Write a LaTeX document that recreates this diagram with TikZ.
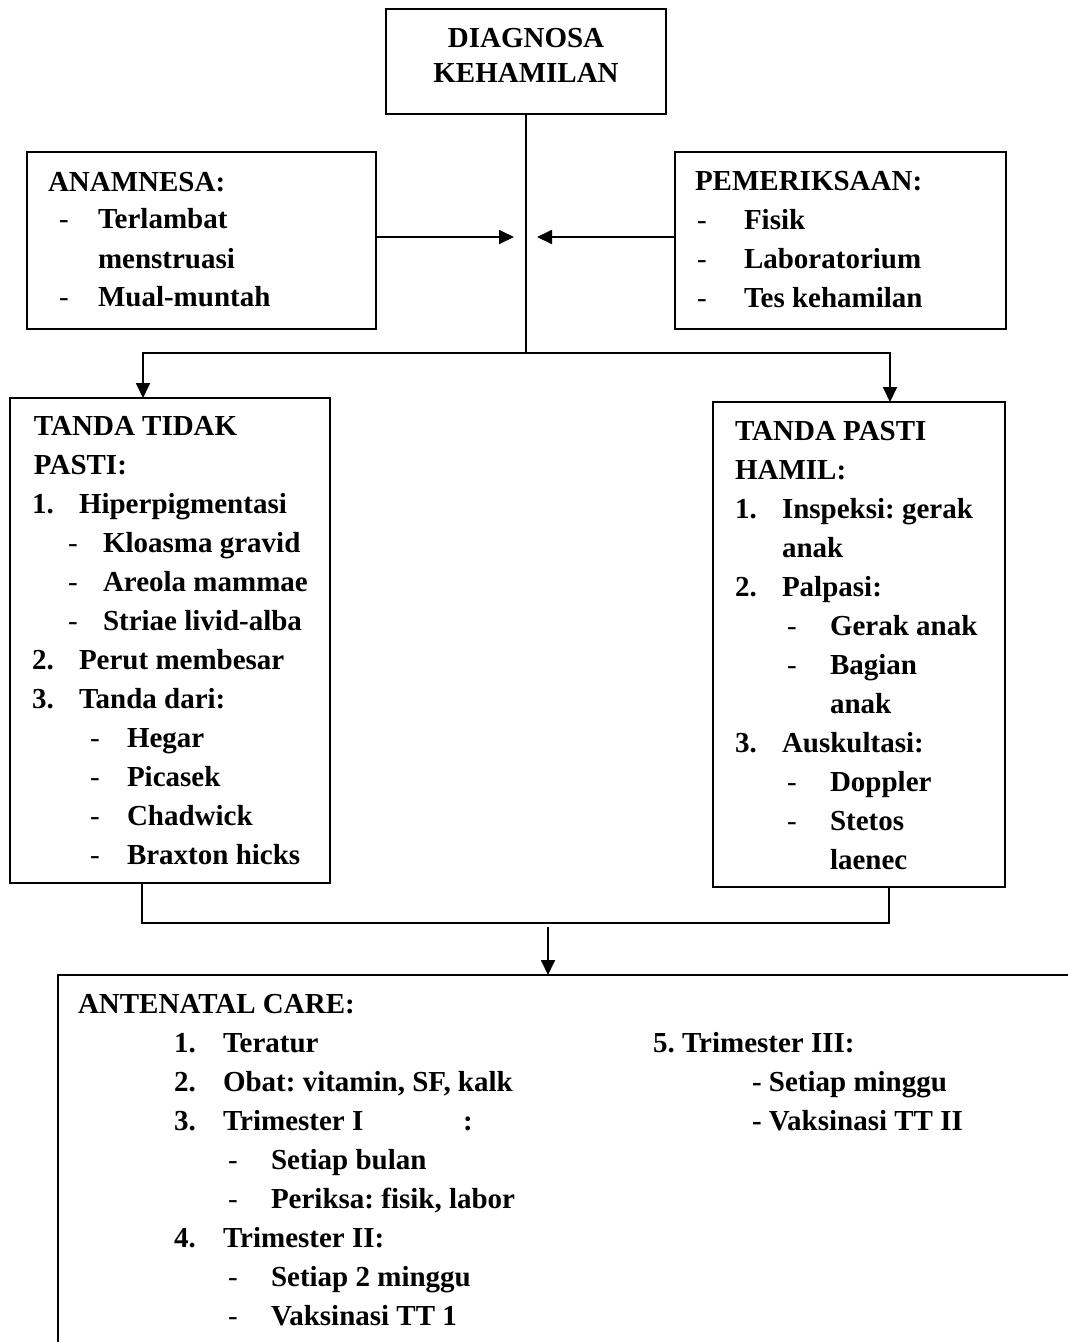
\documentclass[tikz,border=0pt]{standalone}
\usepackage{fontspec}
\setmainfont{Liberation Serif}
\usetikzlibrary{arrows.meta}
\frenchspacing
\begin{document}
\begin{tikzpicture}[x=1pt,y=-1pt,
  box/.style={draw,line width=1.6pt,inner sep=0pt,outer sep=0pt,anchor=north west},
  tx/.style={anchor=base west,inner sep=0pt,outer sep=0pt,font=\fontsize{29}{35}\selectfont\bfseries},
  txc/.style={tx,anchor=base},
  dsh/.style={tx,font=\fontsize{29}{35}\selectfont\mdseries},
  conn/.style={line width=1.6pt},
  arr/.style={line width=1.8pt,-{Triangle[length=15pt,width=14pt]}}]
\useasboundingbox (0,0) rectangle (1068,1342);
\clip (0,0) rectangle (1068,1342);

% boxes
\node[box,minimum width=280pt,minimum height=105pt] (diag) at (386,9) {};
\node[box,minimum width=349pt,minimum height=177pt] (anam) at (27,152) {};
\node[box,minimum width=331pt,minimum height=177pt] (pem) at (675,152) {};
\node[box,minimum width=320pt,minimum height=485pt] (tidak) at (10,398) {};
\node[box,minimum width=292pt,minimum height=485pt] (pasti) at (713,402) {};
\node[box,minimum width=1100pt,minimum height=500pt] (anc) at (58,975) {};

% connectors
\coordinate (jn) at (526,353);
\draw[conn] (diag.south) -- (jn);
\coordinate (aL) at (514,237);
\coordinate (aR) at (537,237);
\draw[arr] (anam.east |- aL) -- (aL);
\draw[arr] (pem.west |- aR) -- (aR);
\coordinate (jL) at (143,353);
\coordinate (jR) at (890,353);
\draw[conn,line cap=rect] (jL) -- (jR);
\draw[arr] (jL) -- (jL |- tidak.north);
\draw[arr] (jR) -- (jR |- pasti.north);
\coordinate (bL) at (142,923);
\coordinate (bR) at (889,923);
\draw[conn] (bL |- tidak.south) -- (bL) -- (bR) -- (bR |- pasti.south);
\coordinate (ac) at (548,927);
\draw[arr] (ac) -- (ac |- anc.north);

% top box
\node[txc] (d1) at (526,47) {DIAGNOSA};
\node[txc] (d2) at (526,82) {KEHAMILAN};

% anamnesa
\node[tx] (a0) at (48,191) {ANAMNESA:};
\node[dsh] (a1d) at (59,228) {-};
\node[tx] (a1) at (98,228) {Terlambat};
\node[tx] (a2) at (98,268) {menstruasi};
\node[dsh] (a3d) at (59,306) {-};
\node[tx] (a3) at (98,306) {Mual-muntah};

% pemeriksaan
\node[tx] (p0) at (695,190) {PEMERIKSAAN:};
\node[dsh] (p1d) at (697,229) {-};
\node[tx] (p1) at (744,229) {Fisik};
\node[dsh] (p2d) at (697,268) {-};
\node[tx] (p2) at (744,268) {Laboratorium};
\node[dsh] (p3d) at (697,307) {-};
\node[tx] (p3) at (744,307) {Tes kehamilan};

% tanda tidak pasti
\node[tx] (l0) at (34,435) {TANDA TIDAK};
\node[tx] (l1) at (34,474) {PASTI:};
\node[tx] (l2n) at (32,513) {1.};
\node[tx] (l2) at (79,513) {Hiperpigmentasi};
\node[dsh] (l3d) at (68,552) {-};
\node[tx] (l3) at (103,552) {Kloasma gravid};
\node[dsh] (l4d) at (68,591) {-};
\node[tx] (l4) at (103,591) {Areola mammae};
\node[dsh] (l5d) at (68,630) {-};
\node[tx] (l5) at (103,630) {Striae livid-alba};
\node[tx] (l6n) at (32,669) {2.};
\node[tx] (l6) at (79,669) {Perut membesar};
\node[tx] (l7n) at (32,708) {3.};
\node[tx] (l7) at (79,708) {Tanda dari:};
\node[dsh] (l8d) at (90,747) {-};
\node[tx] (l8) at (127,747) {Hegar};
\node[dsh] (l9d) at (90,786) {-};
\node[tx] (l9) at (127,786) {Picasek};
\node[dsh] (l10d) at (90,825) {-};
\node[tx] (l10) at (127,825) {Chadwick};
\node[dsh] (l11d) at (90,864) {-};
\node[tx] (l11) at (127,864) {Braxton hicks};

% tanda pasti hamil
\node[tx] (r0) at (735,440) {TANDA PASTI};
\node[tx] (r1) at (735,479) {HAMIL:};
\node[tx] (r2n) at (735,518) {1.};
\node[tx] (r2) at (782,518) {Inspeksi: gerak};
\node[tx] (r3) at (782,557) {anak};
\node[tx] (r4n) at (735,596) {2.};
\node[tx] (r4) at (782,596) {Palpasi:};
\node[dsh] (r5d) at (787,635) {-};
\node[tx] (r5) at (830,635) {Gerak anak};
\node[dsh] (r6d) at (787,674) {-};
\node[tx] (r6) at (830,674) {Bagian};
\node[tx] (r7) at (830,713) {anak};
\node[tx] (r8n) at (735,752) {3.};
\node[tx] (r8) at (782,752) {Auskultasi:};
\node[dsh] (r9d) at (787,791) {-};
\node[tx] (r9) at (830,791) {Doppler};
\node[dsh] (r10d) at (787,830) {-};
\node[tx] (r10) at (830,830) {Stetos};
\node[tx] (r11) at (830,869) {laenec};

% antenatal care
\node[tx] (c0) at (78,1013) {ANTENATAL CARE:};
\node[tx] (c1n) at (174,1052) {1.};
\node[tx] (c1) at (223,1052) {Teratur};
\node[tx] (c2n) at (174,1091) {2.};
\node[tx] (c2) at (223,1091) {Obat: vitamin, SF, kalk};
\node[tx] (c3n) at (174,1130) {3.};
\node[tx] (c3) at (223,1130) {Trimester I};
\node[tx] (c3c) at (463,1130) {:};
\node[dsh] (c4d) at (228,1169) {-};
\node[tx] (c4) at (271,1169) {Setiap bulan};
\node[dsh] (c5d) at (228,1208) {-};
\node[tx] (c5) at (271,1208) {Periksa: fisik, labor};
\node[tx] (c6n) at (174,1247) {4.};
\node[tx] (c6) at (223,1247) {Trimester II:};
\node[dsh] (c7d) at (228,1286) {-};
\node[tx] (c7) at (271,1286) {Setiap 2 minggu};
\node[dsh] (c8d) at (228,1325) {-};
\node[tx] (c8) at (271,1325) {Vaksinasi TT 1};
\node[tx] (k1) at (653,1052) {5. Trimester III:};
\node[tx] (k2) at (752,1091) {- Setiap minggu};
\node[tx] (k3) at (752,1130) {- Vaksinasi TT II};
\end{tikzpicture}
\end{document}
